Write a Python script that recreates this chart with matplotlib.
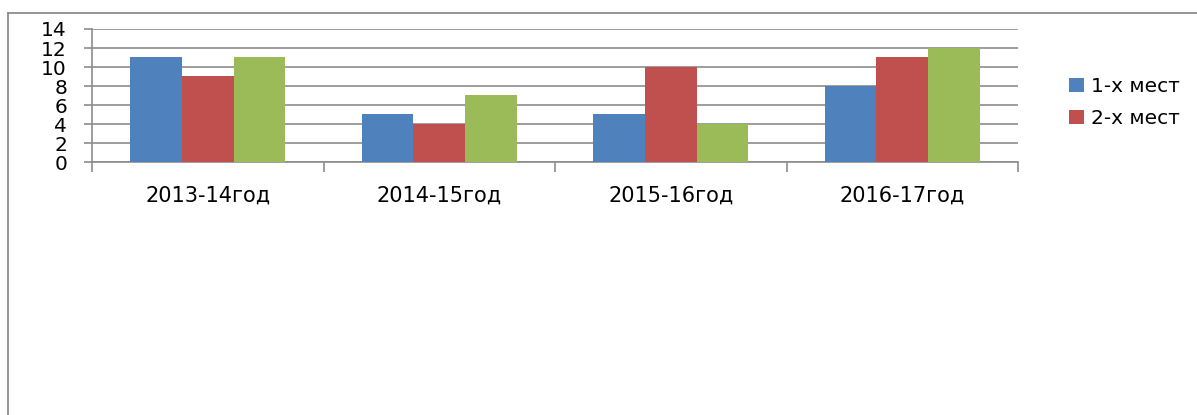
import numpy as np
import matplotlib
matplotlib.use('Agg')
import matplotlib.pyplot as plt
from matplotlib.lines import Line2D

# data
years = ['2013-14год', '2014-15год', '2015-16год', '2016-17год']
first_places = [11, 5, 5, 8]
second_places = [9, 4, 10, 11]
third_places = [11, 7, 4, 12]
series_names = ['1-х мест', '2-х мест', '3-х мест']
y_ticks = [0, 2, 4, 6, 8, 10, 12, 14]

colors = ['#4F81BD', '#C0504D', '#9BBB59']
grid_col = '#8C8C8C'

plt.rcParams['font.family'] = ['DejaVu Sans']

fig = plt.figure(figsize=(11.97, 4.15), dpi=100)
ax = fig.add_axes([92 / 1197, 1 - 162 / 415, (1018 - 92) / 1197, (162 - 29) / 415])

x = np.arange(len(years))
w = 0.2225
bars = []
for i, vals in enumerate([first_places, second_places, third_places]):
    b = ax.bar(x + (i - 1) * w, vals, width=w, color=colors[i], label=series_names[i], zorder=3)
    bars.append(b)

ax.set_xlim(-0.5, len(years) - 0.5)
ax.set_ylim(0, 14)
ax.set_yticks(y_ticks)
ax.set_yticklabels([str(v) for v in y_ticks], fontsize=14.5)
ax.yaxis.grid(True, color=grid_col, linewidth=1.2, zorder=0)

# category boundaries as major ticks, labels on minor ticks
ax.set_xticks(np.arange(len(years) + 1) - 0.5)
ax.set_xticklabels([])
ax.set_xticks(x, minor=True)
ax.set_xticklabels(years, minor=True, fontsize=15)
ax.tick_params(axis='x', which='major', direction='out', length=7, width=1.2, color=grid_col)
ax.tick_params(axis='x', which='minor', length=0, pad=17)
ax.tick_params(axis='y', direction='out', length=6, width=1.2, color=grid_col, pad=12)

for s in ['top', 'right']:
    ax.spines[s].set_visible(False)
for s in ['left', 'bottom']:
    ax.spines[s].set_color(grid_col)
    ax.spines[s].set_linewidth(1.2)

# legend shows only the first two series (the rest is cut off)
fig.legend(handles=[bars[0], bars[1]], labels=series_names[:2],
           loc='upper left', bbox_to_anchor=(1069 / 1197, 1 - 77 / 415),
           frameon=False, fontsize=14.5, handlelength=0.75, handleheight=0.75,
           handletextpad=0.35, labelspacing=0.65, borderpad=0, borderaxespad=0)

# chart area border (top and left only, the rest is outside the picture)
fig.add_artist(Line2D([8 / 1197, 1], [1 - 13 / 415, 1 - 13 / 415], transform=fig.transFigure,
                      color=grid_col, linewidth=1.3))
fig.add_artist(Line2D([8 / 1197, 8 / 1197], [0, 1 - 13 / 415], transform=fig.transFigure,
                      color=grid_col, linewidth=1.3))

fig.savefig('out.png', dpi=100)
